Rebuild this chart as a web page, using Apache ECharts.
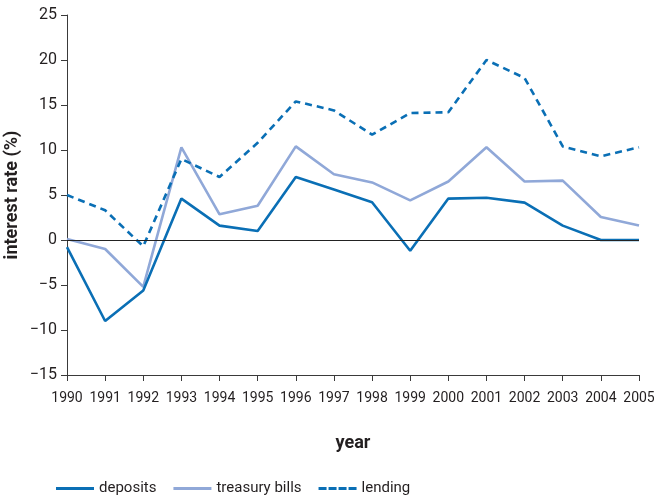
<!DOCTYPE html>
<html>
<head>
<meta charset="utf-8">
<script src="https://cdn.jsdelivr.net/npm/echarts@6/dist/echarts.min.js"></script>
<style>
  html, body { margin: 0; padding: 0; background: #fff; }
  #chart { width: 654px; height: 501px; }
</style>
</head>
<body>
<div id="chart"></div>
<script>
var years = ['1990', '1991', '1992', '1993', '1994', '1995', '1996', '1997',
             '1998', '1999', '2000', '2001', '2002', '2003', '2004', '2005'];
var deposits = [-0.8, -9.0, -5.6, 4.6, 1.6, 1.0, 7.0, 5.6, 4.2, -1.2, 4.6, 4.7, 4.15, 1.6, 0, 0];
var treasuryBills = [0.1, -1.0, -5.2, 10.3, 2.85, 3.8, 10.4, 7.3, 6.4, 4.4, 6.5, 10.3, 6.5, 6.6, 2.55, 1.6];
var lending = [5.0, 3.3, -0.7, 9.0, 7.0, 10.8, 15.4, 14.4, 11.7, 14.1, 14.2, 20.0, 18.0, 10.4, 9.3, 10.3];

var font = "Roboto, 'Noto Sans', sans-serif";
var txt = '#231f20';
var dark = '#0a6fb5';
var light = '#90a8d8';

// legend icons: solid bar and four dashes
var solidIcon = 'path://M0,0h38v3h-38z';
var dashIcon = 'path://M0,0h8v3h-8z M10,0h8v3h-8z M20,0h8v3h-8z M30,0h8v3h-8z';

var myChart = echarts.init(document.getElementById('chart'));

myChart.setOption({
    animation: false,
    textStyle: { fontFamily: font, color: txt },
    grid: { left: 67, right: 15, top: 15, bottom: 126, outerBoundsMode: 'none' },
    legend: {
        left: 56,
        top: 481,
        padding: 0,
        itemWidth: 38,
        itemHeight: 3,
        itemGap: 17,
        textStyle: { fontFamily: font, fontSize: 15, color: txt },
        data: [
            { name: 'deposits', icon: solidIcon },
            { name: 'treasury bills', icon: solidIcon },
            { name: 'lending', icon: dashIcon }
        ]
    },
    xAxis: {
        type: 'category',
        data: years,
        boundaryGap: false,
        name: 'year',
        nameLocation: 'middle',
        nameGap: 59,
        nameTextStyle: { fontFamily: font, fontSize: 18, fontWeight: 'bold', color: txt },
        axisLine: { onZero: false, lineStyle: { color: '#3a3a3a', width: 1 } },
        axisTick: { show: true, alignWithLabel: true, length: 6, lineStyle: { color: '#3a3a3a' } },
        axisLabel: { fontSize: 14, color: txt, margin: 16, interval: 0 },
        splitLine: { show: false }
    },
    yAxis: {
        type: 'value',
        min: -15,
        max: 25,
        interval: 5,
        name: 'interest rate (%)',
        nameLocation: 'middle',
        nameGap: 46,
        nameMoveOverlap: false,
        nameTextStyle: { fontFamily: font, fontSize: 18, fontWeight: 'bold', color: txt },
        axisLine: { show: true, lineStyle: { color: '#3a3a3a', width: 1 } },
        axisTick: { show: true, length: 6, lineStyle: { color: '#3a3a3a' } },
        axisLabel: {
            fontSize: 16,
            color: txt,
            margin: 10,
            formatter: function (v) { return String(v).replace('-', '\u2212'); }
        },
        splitLine: { show: false }
    },
    series: [
        {
            name: 'deposits',
            type: 'line',
            data: deposits,
            symbol: 'none',
            z: 4,
            lineStyle: { color: dark, width: 2.6 },
            itemStyle: { color: dark },
            markLine: {
                silent: true,
                symbol: 'none',
                label: { show: false },
                lineStyle: { color: '#222', width: 1, type: 'solid' },
                data: [{ yAxis: 0 }]
            }
        },
        {
            name: 'treasury bills',
            type: 'line',
            data: treasuryBills,
            symbol: 'none',
            z: 3,
            lineStyle: { color: light, width: 2.6 },
            itemStyle: { color: light }
        },
        {
            name: 'lending',
            type: 'line',
            data: lending,
            symbol: 'none',
            z: 3,
            lineStyle: { color: dark, width: 2.6, type: [7, 5] },
            itemStyle: { color: dark }
        }
    ]
});
</script>
</body>
</html>
